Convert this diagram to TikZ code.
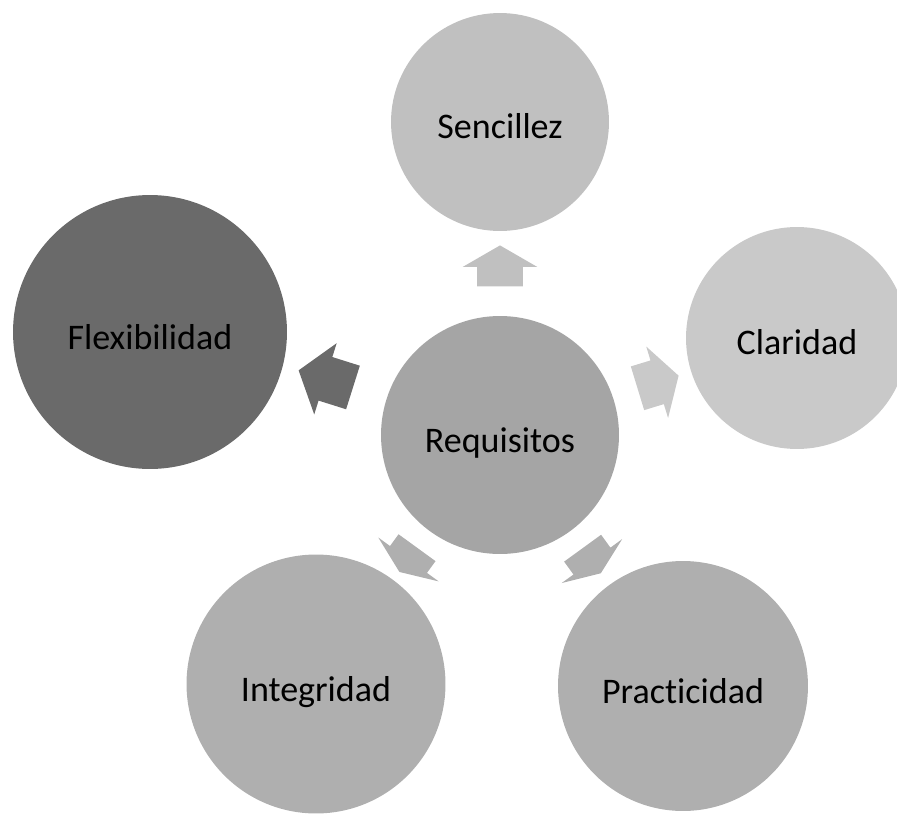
\documentclass[tikz,border=0pt]{standalone}
\usepackage{fontspec}
\setmainfont{Carlito}[Ligatures={NoCommon,NoContextual}]
\usepackage{tikz}
\usetikzlibrary{shapes.arrows}
\definecolor{sencgray}{HTML}{C0C0C0}
\definecolor{clargray}{HTML}{C9C9C9}
\definecolor{reqgray}{HTML}{A5A5A5}
\definecolor{midgray}{HTML}{AFAFAF}
\definecolor{flexgray}{HTML}{6A6A6A}

\begin{document}
\begin{tikzpicture}[x=0.02cm, y=-0.02cm,
  bubble/.style={circle, inner sep=0pt, text=black, text height=0.68cm, text depth=0pt,
    font=\fontsize{20.5}{24}\selectfont},
  pointer/.style={single arrow, draw=none, inner xsep=0pt, inner ysep=0.45cm,
    minimum width=1.48cm, single arrow head extend=0.29cm}]
\clip (0,0) rectangle (897,815);
% centre and outer circles
\node[bubble, fill=reqgray, minimum size=4.76cm] (req) at (500,435) {Requisitos};
\node[bubble, fill=sencgray, minimum size=4.36cm] (senc) at (500,122) {Sencillez};
\node[bubble, fill=clargray, minimum size=4.44cm] (clar) at (797,338) {Claridad};
\node[bubble, fill=flexgray, minimum size=5.48cm] (flex) at (150,332) {Flexibilidad};
\node[bubble, fill=midgray, minimum size=5.18cm] (integ) at (316,684) {Integridad};
\node[bubble, fill=midgray, minimum size=5.0cm] (pract) at (683,686) {Practicidad};
% block arrows
\node[pointer, fill=sencgray, rotate=90, minimum height=0.82cm, single arrow tip angle=120] (toSenc) at (500,272.5) {};
\node[pointer, fill=clargray, rotate=17, minimum height=0.86cm, single arrow tip angle=118] (toClar) at (651.5,384) {};
\node[pointer, fill=flexgray, rotate=162.5, minimum height=1.14cm, single arrow tip angle=106] (toFlex) at (334,381.5) {};
\node[pointer, fill=midgray, rotate=-126, minimum height=0.6cm, single arrow tip angle=135] (toInteg) at (411,556) {};
\node[pointer, fill=midgray, rotate=-54, minimum height=0.62cm, single arrow tip angle=136] (toPract) at (589,557) {};
\end{tikzpicture}
\end{document}
